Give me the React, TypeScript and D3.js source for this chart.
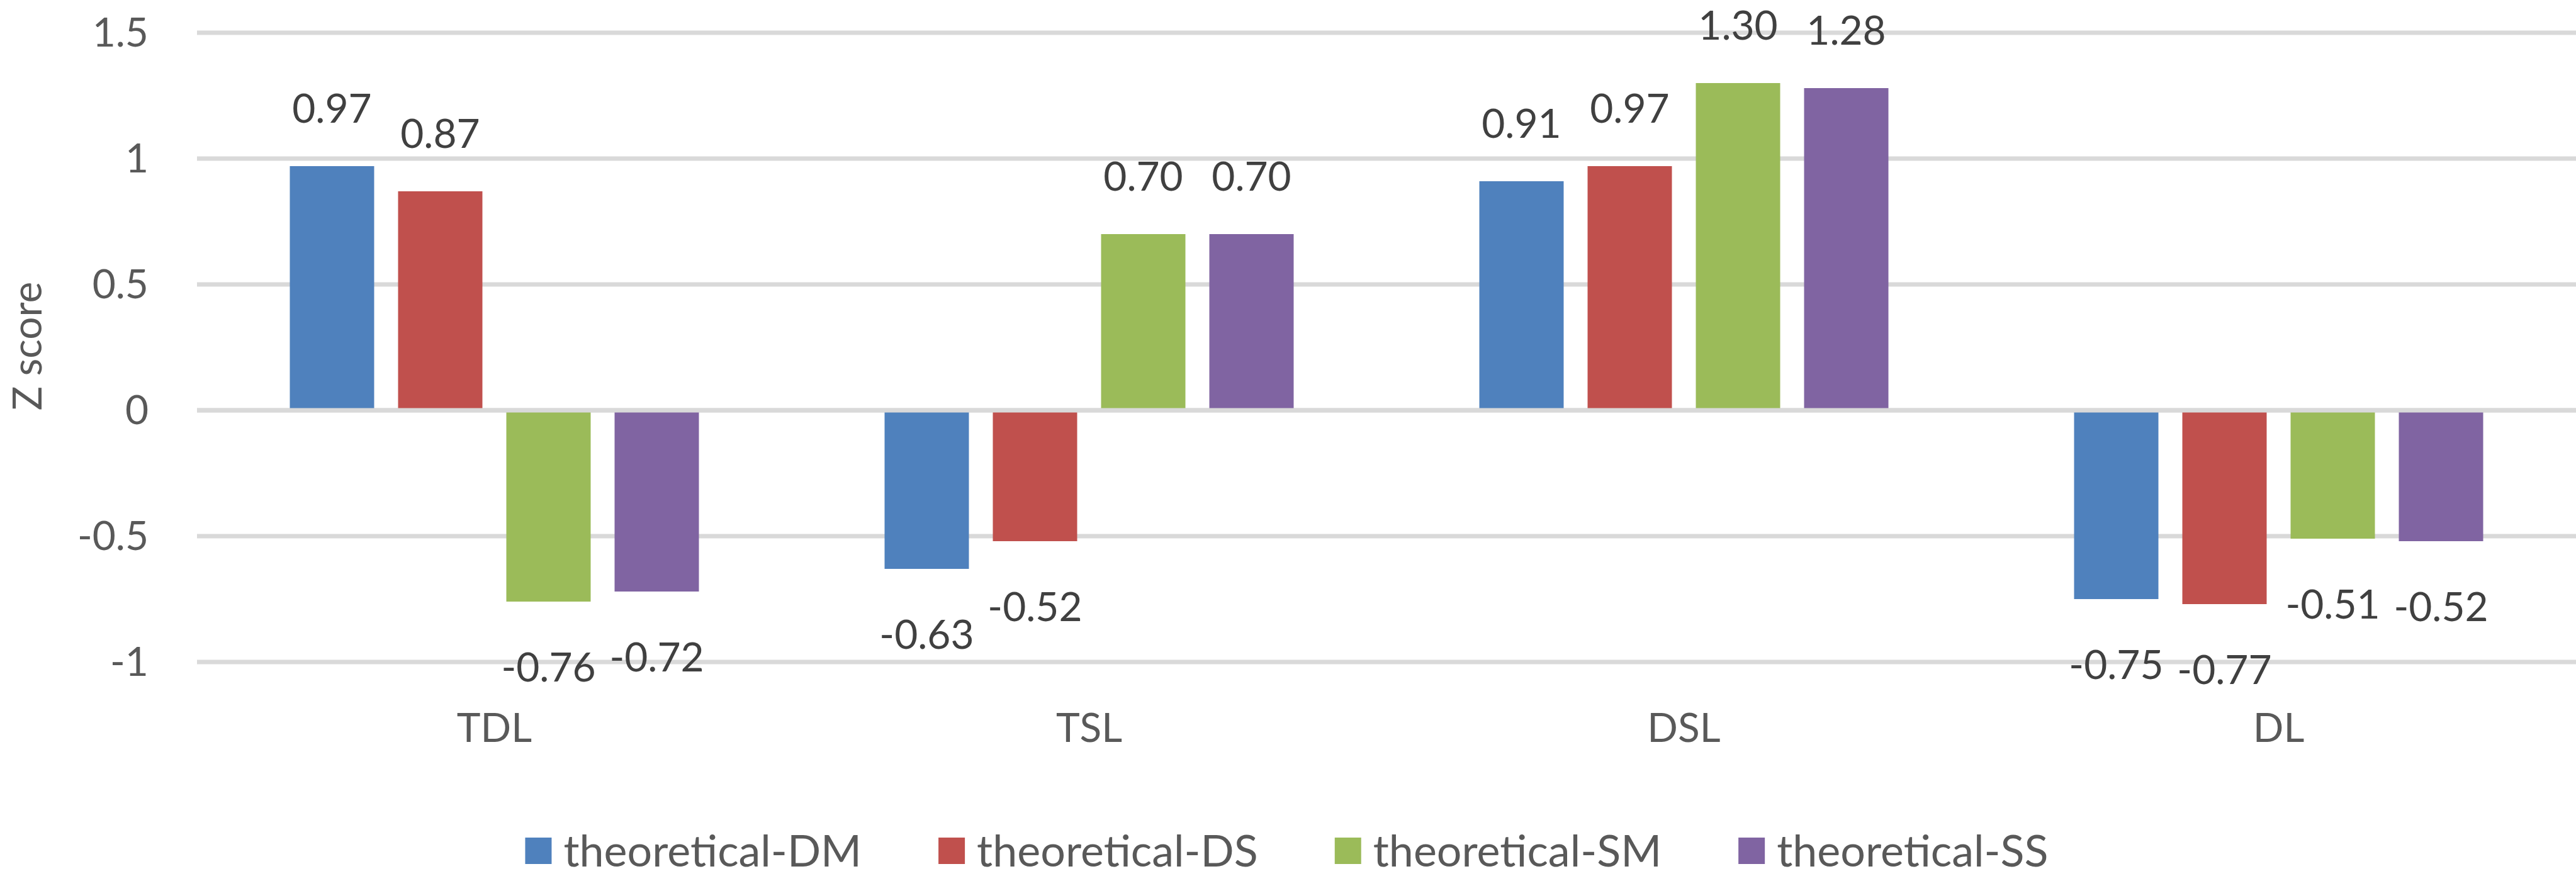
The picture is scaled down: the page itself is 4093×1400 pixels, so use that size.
import React, { useRef, useEffect } from 'react';
import * as d3 from 'd3';

const categories = ['TDL', 'TSL', 'DSL', 'DL'];
const seriesNames = ['theoretical-DM', 'theoretical-DS', 'theoretical-SM', 'theoretical-SS'];
const seriesColors = ['#4F81BD', '#C0504D', '#9BBB59', '#8064A2'];

// one array per series, in category order
const valuesDM = [0.97, -0.63, 0.91, -0.75];
const valuesDS = [0.87, -0.52, 0.97, -0.77];
const valuesSM = [-0.76, 0.70, 1.30, -0.51];
const valuesSS = [-0.72, 0.70, 1.28, -0.52];

const yTicks = [1.5, 1, 0.5, 0, -0.5, -1];

const W = 4093;
const H = 1400;
const FONT = 'Lato, "Open Sans", sans-serif';

const App: React.FC = () => {
  const svgRef = useRef<SVGSVGElement>(null);

  useEffect(() => {
    if (!svgRef.current) return;
    const svg = d3.select(svgRef.current);
    svg.selectAll('*').remove();

    const allSeries = [valuesDM, valuesDS, valuesSM, valuesSS];

    const x0 = d3.scaleBand<string>()
      .domain(categories)
      .range([313, W])
      .padding(0);

    const groupW = 650;
    const x1 = d3.scaleBand<string>()
      .domain(seriesNames)
      .range([(x0.bandwidth() - groupW) / 2, (x0.bandwidth() + groupW) / 2])
      .paddingInner(0.221)
      .paddingOuter(0);

    const y = d3.scaleLinear().domain([-1, 1.5]).range([1052, 52]);

    // gridlines
    svg.append('g')
      .selectAll('line')
      .data(yTicks)
      .enter().append('line')
      .attr('x1', 313)
      .attr('x2', W)
      .attr('y1', d => y(d))
      .attr('y2', d => y(d))
      .attr('stroke', '#D9D9D9')
      .attr('stroke-width', 7);

    // tick labels
    svg.append('g')
      .selectAll('text')
      .data(yTicks)
      .enter().append('text')
      .attr('x', 236)
      .attr('y', d => y(d))
      .attr('dy', '0.35em')
      .attr('text-anchor', 'end')
      .attr('font-family', FONT)
      .attr('font-size', 64)
      .attr('fill', '#595959')
      .text(d => String(d));

    // y title
    svg.append('text')
      .attr('transform', 'translate(66,550) rotate(-90)')
      .attr('text-anchor', 'middle')
      .attr('font-family', FONT)
      .attr('font-size', 64)
      .attr('fill', '#595959')
      .text('Z score');

    // bars
    const groups = svg.append('g')
      .selectAll('g')
      .data(categories)
      .enter().append('g')
      .attr('transform', d => `translate(${x0(d)},0)`);

    groups.each(function (cat, ci) {
      const g = d3.select(this);
      const rows = seriesNames.map((s, si) => ({ s, si, v: allSeries[si][ci] }));
      g.selectAll('rect')
        .data(rows)
        .enter().append('rect')
        .attr('x', d => x1(d.s) as number)
        .attr('width', x1.bandwidth())
        .attr('y', d => Math.min(y(d.v), y(0)))
        .attr('height', d => Math.abs(y(d.v) - y(0)))
        .attr('fill', d => seriesColors[d.si]);

      g.selectAll('text')
        .data(rows)
        .enter().append('text')
        .attr('x', d => (x1(d.s) as number) + x1.bandwidth() / 2)
        .attr('y', d => (d.v >= 0 ? y(d.v) - 69 : y(d.v) + 127))
        .attr('text-anchor', 'middle')
        .attr('font-family', FONT)
        .attr('font-size', 64)
        .attr('fill', '#404040')
        .text(d => d.v.toFixed(2));
    });

    // zero axis line on top
    svg.append('line')
      .attr('x1', 313)
      .attr('x2', W)
      .attr('y1', y(0))
      .attr('y2', y(0))
      .attr('stroke', '#D9D9D9')
      .attr('stroke-width', 7);

    // category labels
    svg.append('g')
      .selectAll('text')
      .data(categories)
      .enter().append('text')
      .attr('x', d => (x0(d) as number) + x0.bandwidth() / 2)
      .attr('y', 1179)
      .attr('text-anchor', 'middle')
      .attr('font-family', FONT)
      .attr('font-size', 64)
      .attr('fill', '#595959')
      .text(d => d);

    // legend, laid out from measured text widths
    const legend = svg.append('g');
    let cursor = 0;
    seriesNames.forEach((name, i) => {
      const item = legend.append('g').attr('transform', `translate(${cursor},0)`);
      item.append('rect')
        .attr('x', 0)
        .attr('y', 1331)
        .attr('width', 42)
        .attr('height', 42)
        .attr('fill', seriesColors[i]);
      const t = item.append('text')
        .attr('x', 61)
        .attr('y', 1377)
        .attr('font-family', FONT)
        .attr('font-size', 70)
        .attr('fill', '#595959')
        .text(name);
      const tw = (t.node() as SVGTextElement).getComputedTextLength();
      cursor += 61 + tw + (i < seriesNames.length - 1 ? 122 : 0);
    });
    legend.attr('transform', `translate(${(W - cursor) / 2 - 2},0)`);
  }, []);

  return (
    <div>
      <svg
        ref={svgRef}
        width={W}
        height={H}
        style={{ position: 'absolute', left: 0, top: 0, background: '#fff' }}
      />
    </div>
  );
};

export default App;
